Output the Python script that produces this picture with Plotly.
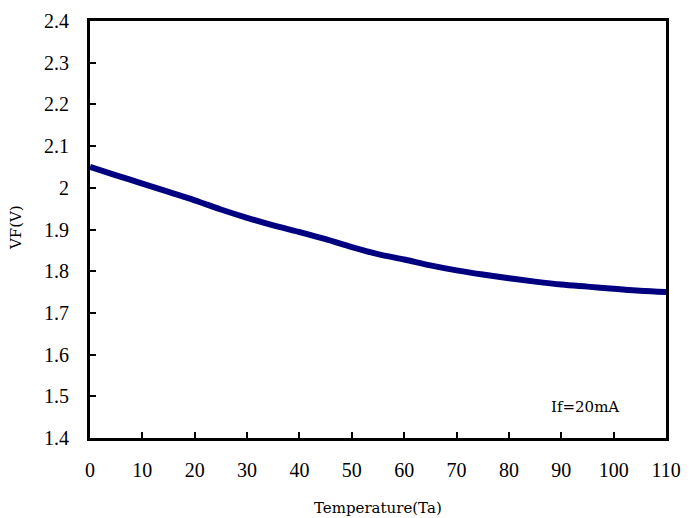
import plotly.graph_objects as go

temperature = [0, 5, 10, 15, 20, 25, 30, 35, 40, 45, 50, 55, 60, 65, 70, 75, 80, 85, 90, 95, 100, 105, 110]
vf = [2.050, 2.030, 2.010, 1.990, 1.970, 1.948, 1.928, 1.910, 1.894, 1.877, 1.858, 1.841, 1.828, 1.814, 1.802, 1.792, 1.783, 1.775, 1.768, 1.763, 1.758, 1.753, 1.750]

x_ticks = [0, 10, 20, 30, 40, 50, 60, 70, 80, 90, 100, 110]
y_ticks = [1.4, 1.5, 1.6, 1.7, 1.8, 1.9, 2.0, 2.1, 2.2, 2.3, 2.4]
y_tick_text = ["1.4", "1.5", "1.6", "1.7", "1.8", "1.9", "2", "2.1", "2.2", "2.3", "2.4"]

tick_font = "Liberation Serif"
label_font = "DejaVu Serif"

fig = go.Figure()
fig.add_trace(go.Scatter(
    x=temperature, y=vf, mode="lines",
    line=dict(color="#000080", width=6, shape="spline"),
    showlegend=False,
))

fig.update_layout(
    width=683, height=510,
    margin=dict(l=82, r=25, t=13, b=80, autoexpand=False),
    paper_bgcolor="white", plot_bgcolor="white",
    font=dict(family=tick_font, color="black"),
    xaxis=dict(
        range=[0, 110], tickvals=x_ticks, ticks="inside", ticklen=6, tickwidth=1.5,
        tickcolor="black", showline=True, linecolor="black", linewidth=3, mirror=True,
        showgrid=False, zeroline=False, tickfont=dict(size=20, family=tick_font),
        ticklabelstandoff=12, automargin=False,
    ),
    yaxis=dict(
        range=[1.4, 2.4], tickvals=y_ticks, ticktext=y_tick_text, ticks="inside", ticklen=6,
        tickwidth=1.5, tickcolor="black", showline=True, linecolor="black", linewidth=3,
        mirror=True, showgrid=False, zeroline=False, tickfont=dict(size=20, family=tick_font),
        ticklabelstandoff=14, automargin=False,
    ),
    annotations=[
        dict(x=94.6, y=1.474, xref="x", yref="y", text="If=20mA", showarrow=False,
             xanchor="center", yanchor="middle",
             font=dict(size=15, family=label_font, color="black")),
        dict(x=0.5, y=-0.168, xref="paper", yref="paper", text="Temperature(Ta)",
             showarrow=False, xanchor="center", yanchor="middle",
             font=dict(size=15, family=label_font, color="black")),
        dict(x=-0.128, y=0.504, xref="paper", yref="paper", text="VF(V)", textangle=-90,
             showarrow=False, xanchor="center", yanchor="middle",
             font=dict(size=15, family=label_font, color="black")),
    ],
)

fig.write_html("out.html")
